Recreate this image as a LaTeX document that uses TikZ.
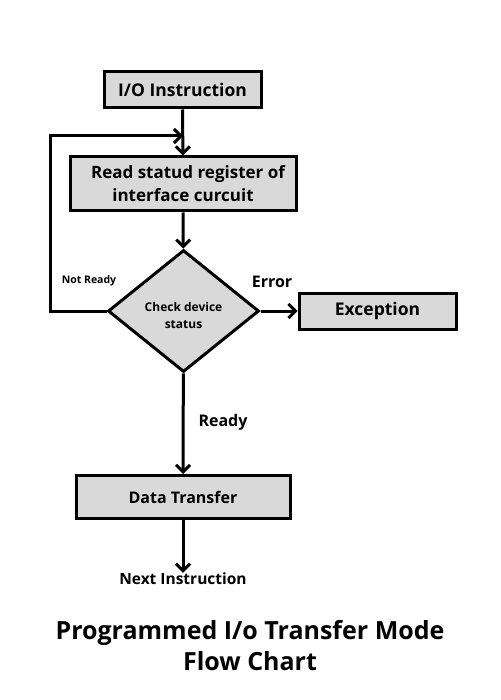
\documentclass[tikz,border=0pt]{standalone}
\usepackage{fontspec}
\setmainfont{Open Sans}
\usepackage{tikz}
\usetikzlibrary{shapes.geometric,arrows.meta}

\begin{document}
\begin{tikzpicture}[x=1pt, y=-1pt, font=\bfseries]
    \tikzstyle{stepbox} = [rectangle, draw, line width=3pt, fill=black!15, inner sep=0pt]
    \tikzstyle{decide} = [diamond, draw, line width=3pt, fill=black!15, inner sep=0pt, minimum width=151pt, minimum height=122pt]
    \tikzstyle{flow} = [line width=3pt, -{Straight Barb[length=7pt, width=14pt, line width=3pt]}]
    \tikzstyle{lbl} = [inner sep=0pt, align=center]

    \useasboundingbox[fill=white] (0,0) rectangle (500,700);

    % Boxes
    \node[stepbox, minimum width=157pt, minimum height=36pt, font=\bfseries\fontsize{17.5}{20}\selectfont] (io) at (182.5,90) {I/O Instruction};
    \node[stepbox, minimum width=226pt, minimum height=54pt, align=center, font=\bfseries\fontsize{17}{23}\selectfont] (read) at (183,184) {\hspace*{10pt}Read statud register of\\ interface curcuit};
    \node[decide] (check) at (183.5,311) {};
    \node[lbl, font=\bfseries\fontsize{12}{17}\selectfont] (checktxt) at (183.5,315.5) {Check device\\ status};
    \node[stepbox, minimum width=157pt, minimum height=36pt, font=\bfseries\fontsize{17.5}{20}\selectfont] (exc) at (377.5,311) {Exception};
    \node[stepbox, minimum width=214pt, minimum height=43pt, font=\bfseries\fontsize{16}{20}\selectfont] (data) at (183,497) {Data Transfer};

    % Labels
    \node[lbl, font=\bfseries\fontsize{16}{20}\selectfont] (err) at (272,282) {Error};
    \node[lbl, font=\bfseries\fontsize{10.5}{12}\selectfont] (notready) at (89,281) {Not Ready};
    \node[lbl, font=\bfseries\fontsize{16}{20}\selectfont] (ready) at (223,422) {Ready};
    \node[lbl, font=\bfseries\fontsize{15.5}{18}\selectfont] (next) at (183,579) {Next Instruction};
    \node[lbl, font=\bfseries\fontsize{25}{31}\selectfont] (title) at (250,646) {Programmed I/o Transfer Mode\\ Flow Chart};

    % Arrows
    \coordinate (join) at (183,136);
    \coordinate (loop) at (50,311);
    \draw[flow] (io) -- (read);
    \draw[flow] (read) -- (check);
    \draw[flow] (check) -- (exc);
    \draw[flow] (check) -- (data);
    \draw[flow] (data) -- (next.north);
    \draw[flow] (check.west) -- (loop) |- (join);

\end{tikzpicture}
\end{document}
